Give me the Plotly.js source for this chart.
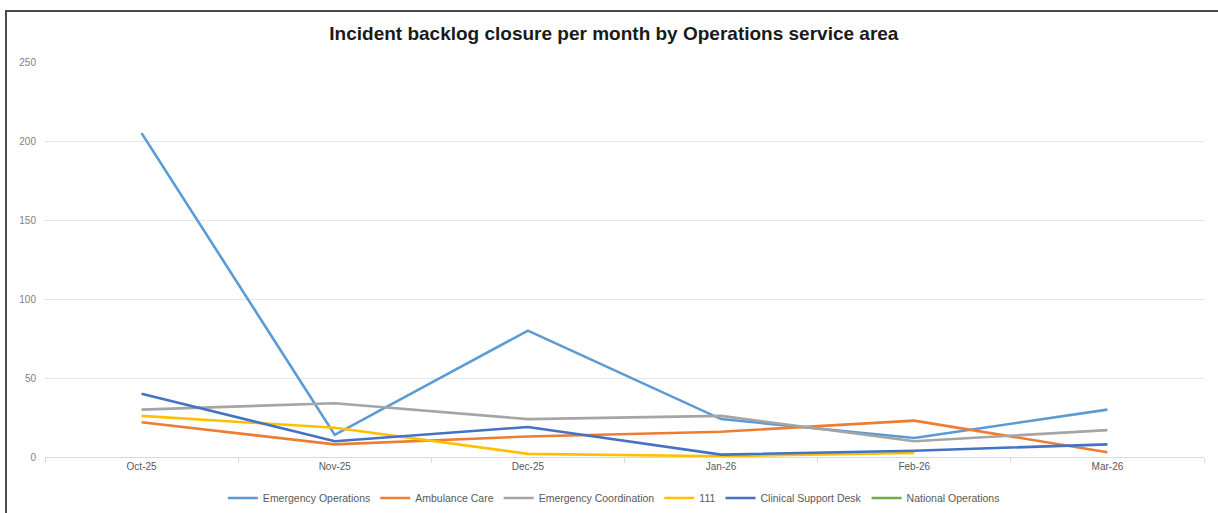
<!DOCTYPE html>
<html>
<head>
<meta charset="utf-8">
<script src="https://cdn.plot.ly/plotly-3.0.1.min.js"></script>
<style>
  html, body { margin: 0; padding: 0; background: #fff; overflow: hidden; }
  #chart { width: 1218px; height: 513px; }
</style>
</head>
<body>
<div id="chart"></div>
<script>
const months = ["Oct-25", "Nov-25", "Dec-25", "Jan-26", "Feb-26", "Mar-26"];
const emergencyOperations = [205, 14, 80, 24, 12, 30];
const ambulanceCare = [22, 8, 13, 16, 23, 3];
const emergencyCoordination = [30, 34, 24, 26, 10, 17];
const nhs111 = [26, 18.5, 2, 0.5, 2.5, null];
const clinicalSupportDesk = [40, 10, 19, 1.5, 4, 8];
const nationalOperations = [null, null, null, null, null, null];
const yTicks = [0, 50, 100, 150, 200, 250];

const seriesNames = ["Emergency Operations", "Ambulance Care", "Emergency Coordination", "111", "Clinical Support Desk", "National Operations"];
const seriesData = [emergencyOperations, ambulanceCare, emergencyCoordination, nhs111, clinicalSupportDesk, nationalOperations];
const colors = ["#5B9BD5", "#ED7D31", "#A5A5A5", "#FFC000", "#4472C4", "#70AD47"];

const traces = seriesNames.map((name, i) => ({
  type: "scatter",
  mode: "lines",
  name: name,
  x: months,
  y: seriesData[i],
  line: { color: colors[i], width: 2.6 },
  connectgaps: false,
  hoverinfo: "x+y+name"
}));

const W = 1218, H = 513, ML = 45, MR = 14, MT = 62, MB = 56;
const pw = W - ML - MR, ph = H - MT - MB;
const px = (x) => (x - ML) / pw;
const py = (y) => (H - MB - y) / ph;

const layout = {
  width: W,
  height: H,
  margin: { l: ML, r: MR, t: MT, b: MB },
  paper_bgcolor: "#ffffff",
  plot_bgcolor: "#ffffff",
  font: { family: "Liberation Sans, Arial, sans-serif", color: "#595959", size: 10 },
  title: {
    text: "<b>Incident backlog closure per month by Operations service area</b>",
    font: { family: "Liberation Sans, Arial, sans-serif", size: 19, color: "#1a1a1a" },
    x: 0.504, xanchor: "center", xref: "container",
    y: 1 - 33 / 513, yanchor: "middle", yref: "container"
  },
  xaxis: {
    type: "category",
    categoryarray: months,
    range: [-0.5, months.length - 0.5],
    showgrid: false,
    showline: true,
    linecolor: "#d9d9d9",
    linewidth: 1,
    ticks: "outside",
    tickson: "boundaries",
    ticklen: 5,
    tickcolor: "#d9d9d9",
    tickfont: { size: 10, color: "#595959" },
    zeroline: false,
    fixedrange: true
  },
  yaxis: {
    range: [0, 250],
    tickvals: yTicks,
    showgrid: true,
    gridcolor: "#e6e6e6",
    gridwidth: 1,
    zeroline: false,
    showline: false,
    ticks: "",
    ticklabelstandoff: 8,
    tickfont: { size: 10, color: "#7f7f7f" },
    fixedrange: true
  },
  shapes: [
    { type: "line", xref: "paper", yref: "paper", x0: px(5), x1: px(W + 5), y0: py(11), y1: py(11),
      line: { color: "#4a4a4a", width: 2 }, layer: "above" },
    { type: "line", xref: "paper", yref: "paper", x0: px(6), x1: px(6), y0: py(10), y1: py(H + 5),
      line: { color: "#4a4a4a", width: 2 }, layer: "above" }
  ],
  showlegend: true,
  legend: {
    orientation: "h",
    xref: "container",
    x: 0.504,
    xanchor: "center",
    yref: "container",
    y: 1 - 498 / 513,
    yanchor: "middle",
    font: { size: 10.5, color: "#595959" },
    itemwidth: 30,
    traceorder: "normal",
    bgcolor: "rgba(0,0,0,0)"
  }
};

Plotly.newPlot("chart", traces, layout, { displayModeBar: false, staticPlot: true });
</script>
</body>
</html>
